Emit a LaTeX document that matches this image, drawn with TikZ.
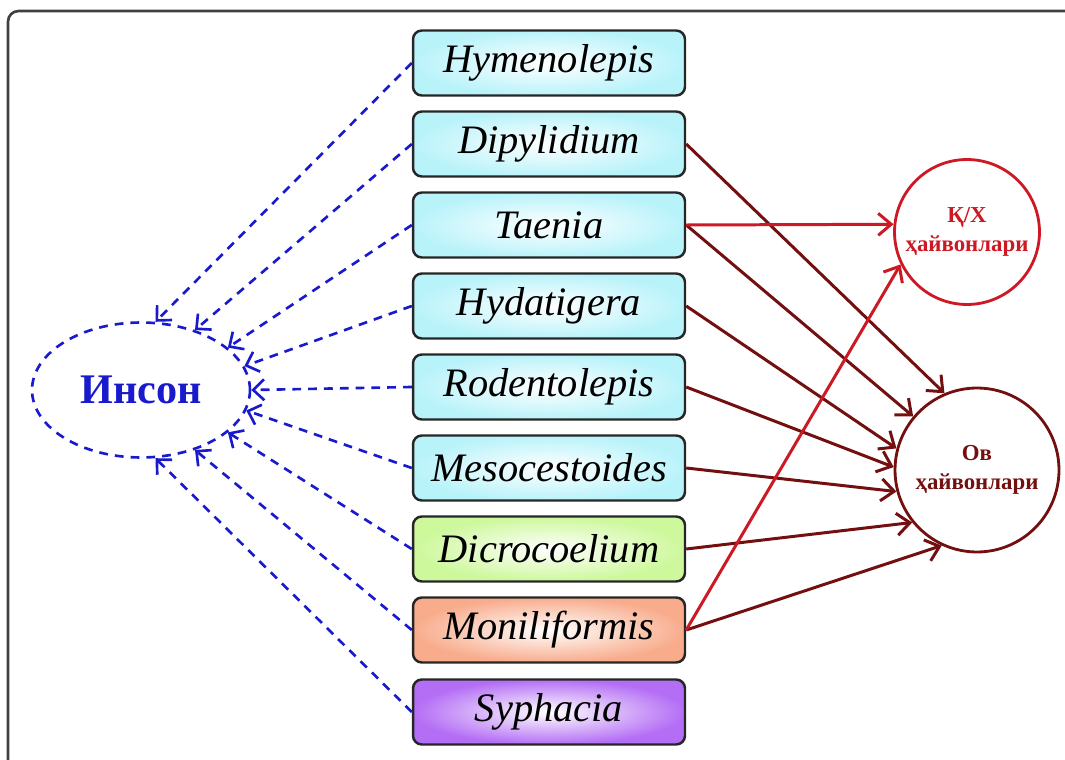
\documentclass[tikz,border=0pt]{standalone}
\usepackage{fontspec}
\setmainfont{Liberation Serif}
\usetikzlibrary{arrows.meta,shapes.geometric}
\definecolor{insonblue}{RGB}{25,25,205}
\definecolor{kxred}{RGB}{205,25,35}
\definecolor{ovmaroon}{RGB}{115,15,15}
\definecolor{tapecyan}{RGB}{185,243,250}
\definecolor{flukegreen}{RGB}{205,248,155}
\definecolor{thornsalmon}{RGB}{248,172,140}
\definecolor{pinpurple}{RGB}{180,110,245}

\begin{document}
\begin{tikzpicture}[x=0.02cm, y=-0.02cm,
  box/.style={draw=black!85, line width=1.4pt, rounded corners=5pt, minimum width=5.44cm, minimum height=1.3cm, inner color=white, font=\fontsize{23}{27}\selectfont\itshape},
  host/.style={circle, line width=1.6pt, fill=white, align=center, inner sep=0pt, font=\fontsize{13}{16.5}\selectfont\bfseries},
  dasharr/.style={-{Straight Barb[length=0.22cm,width=0.42cm]}, insonblue, line width=1.5pt, dash pattern=on 5pt off 4pt},
  ovarr/.style={-{Straight Barb[length=0.26cm,width=0.44cm]}, ovmaroon, line width=1.7pt},
  kxarr/.style={-{Straight Barb[length=0.26cm,width=0.44cm]}, kxred, line width=1.7pt},
]
\useasboundingbox (0,0) rectangle (1065,760);
\draw[line width=1.5pt, black!75, rounded corners=6pt] (8,11) rectangle (1085,780);

\node[box, outer color=tapecyan] (hym) at (549,63) {Hymenolepis};
\node[box, outer color=tapecyan] (dip) at (549,144) {Dipylidium};
\node[box, outer color=tapecyan] (tae) at (549,225) {Taenia};
\node[box, outer color=tapecyan] (hyd) at (549,306) {Hydatigera};
\node[box, outer color=tapecyan] (rod) at (549,387) {Rodentolepis};
\node[box, outer color=tapecyan] (mes) at (549,468) {Mesocestoides};
\node[box, outer color=flukegreen] (dic) at (549,549) {Dicrocoelium};
\node[box, outer color=thornsalmon] (mon) at (549,630) {Moniliformis};
\node[box, outer color=pinpurple] (syp) at (549,712) {Syphacia};

\node[ellipse, draw=insonblue, line width=1.5pt, dash pattern=on 5pt off 4pt, minimum width=4.36cm, minimum height=2.7cm, text=insonblue, font=\fontsize{24}{28}\selectfont\bfseries] (ins) at (141,390) {Инсон};

\node[host, draw=kxred, text=kxred, minimum size=2.9cm] (kx) at (967,232) {Қ/Х\\ҳайвонлари};
\node[host, draw=ovmaroon, text=ovmaroon, minimum size=3.28cm] (ov) at (977,470) {Ов\\ҳайвонлари};

\draw[dasharr] (hym.west) -- (ins.78);
\draw[dasharr] (dip.west) -- (ins.48);
\draw[dasharr] (tae.west) -- (ins.26);
\draw[dasharr] (hyd.west) -- (ins.13);
\draw[dasharr] (rod.west) -- (ins.0);
\draw[dasharr] (mes.west) -- (ins.-11);
\draw[dasharr] (dic.west) -- (ins.-26);
\draw[dasharr] (mon.west) -- (ins.-48);
\draw[dasharr] (syp.west) -- (ins.-78);

\draw[ovarr] (dip.east) -- (ov.113);
\draw[ovarr] (tae.east) -- (ov.140);
\draw[ovarr] (hyd.east) -- (ov.165);
\draw[ovarr] (rod.east) -- (ov.178);
\draw[ovarr] (mes.east) -- (ov.195);
\draw[ovarr] (dic.east) -- (ov.219);
\draw[ovarr] (mon.east) -- (ov.245);

\draw[kxarr] (tae.east) -- (kx.174);
\draw[kxarr] (mon.east) -- (kx.206);
\end{tikzpicture}
\end{document}
